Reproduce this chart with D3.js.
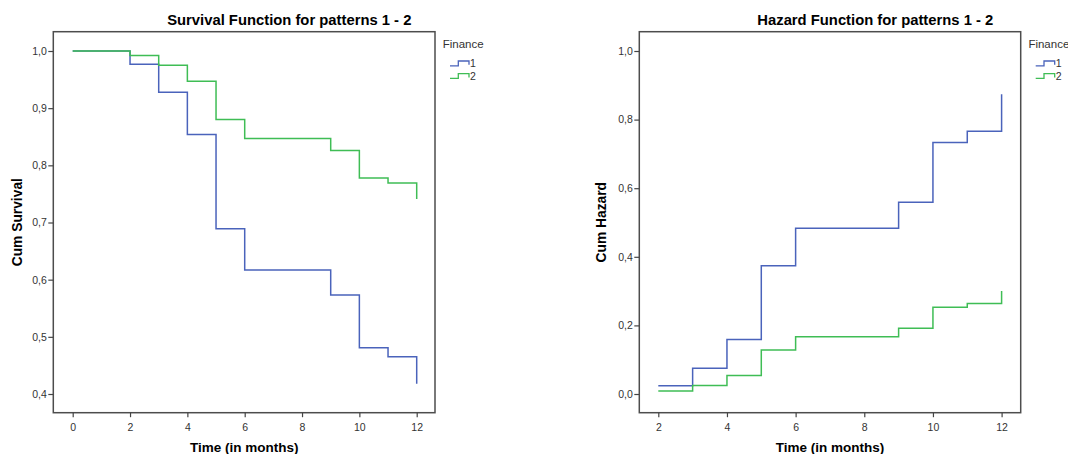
<!doctype html>
<html>
<head>
  <meta charset='utf-8'>
  <style>
    body { margin: 0; background: #fff; }
    svg { font-family: 'Liberation Sans', Arial, sans-serif; }
    .tick text { font-size: 10.5px; fill: #333; }
    .tick line { stroke: #444; stroke-width: 1.2; }
    .domain { display: none; }
  </style>
</head>
<body>
  <svg width='1068' height='454'></svg>
  <script src='https://d3js.org/d3.v7.min.js'></script>
  <script>
    // step times (months)
    var survTimes = [0, 2, 3, 4, 5, 6, 9, 10, 11, 12];
    var hazTimes = [2, 3, 4, 5, 6, 9, 10, 11, 12];

    // cumulative survival, Finance = 1 / 2
    var surv1 = [1.0, 0.977, 0.928, 0.854, 0.689, 0.617, 0.573, 0.481, 0.465, 0.418];
    var surv2 = [1.0, 0.992, 0.975, 0.947, 0.880, 0.847, 0.826, 0.778, 0.769, 0.741];

    // cumulative hazard, Finance = 1 / 2
    var haz1 = [0.024, 0.075, 0.159, 0.374, 0.483, 0.559, 0.733, 0.766, 0.874];
    var haz2 = [0.009, 0.025, 0.054, 0.128, 0.167, 0.192, 0.253, 0.264, 0.300];

    var groups = ['1', '2'];
    var colors = ['#4a63bb', '#3fbd55'];

    var survYTicks = [0.4, 0.5, 0.6, 0.7, 0.8, 0.9, 1.0];
    var hazYTicks = [0.0, 0.2, 0.4, 0.6, 0.8, 1.0];
    var survXTicks = [0, 2, 4, 6, 8, 10, 12];
    var hazXTicks = [2, 4, 6, 8, 10, 12];

    var svg = d3.select('svg');
    var fmt = function(d) { return d3.format('.1f')(d).replace('.', ','); };

    function panel(o) {
      var g = svg.append('g');
      var x = d3.scaleLinear().domain(o.xDomain).range(o.xRange);
      var y = d3.scaleLinear().domain(o.yDomain).range([394, 51]);

      g.append('rect')
       .attr('x', o.left).attr('y', 31.7)
       .attr('width', o.right - o.left).attr('height', 381)
       .attr('fill', 'none').attr('stroke', '#4d4d4d').attr('stroke-width', 1.5);

      g.append('g')
       .attr('transform', 'translate(0,412.7)')
       .call(d3.axisBottom(x).tickValues(o.xTicks).tickSize(4.5).tickPadding(6)
               .tickFormat(d3.format('d')));

      g.append('g')
       .attr('transform', 'translate(' + o.left + ',0)')
       .call(d3.axisLeft(y).tickValues(o.yTicks).tickSize(5).tickPadding(1.5)
               .tickFormat(fmt));

      var line = d3.line()
                   .x(function(d) { return x(d[0]); })
                   .y(function(d) { return y(d[1]); })
                   .curve(d3.curveStepAfter);

      o.series.forEach(function(vals, i) {
        g.append('path')
         .datum(d3.zip(o.times, vals))
         .attr('d', line)
         .attr('fill', 'none')
         .attr('stroke', colors[i])
         .attr('stroke-width', 1.5);
      });

      g.append('text')
       .attr('x', o.left + 236).attr('y', 25.3)
       .attr('text-anchor', 'middle')
       .style('font-size', '14.8px').style('font-weight', 'bold')
       .text(o.title);

      g.append('text')
       .attr('x', (o.left + o.right) / 2).attr('y', 452.3)
       .attr('text-anchor', 'middle')
       .style('font-size', '13.5px').style('font-weight', 'bold')
       .text('Time (in months)');

      g.append('text')
       .attr('transform', 'translate(' + o.yLabelX + ',222.2) rotate(-90)')
       .attr('text-anchor', 'middle')
       .style('font-size', '13.8px').style('font-weight', 'bold')
       .text(o.yLabel);

      // legend
      var lx = o.right + 7.7;
      g.append('text')
       .attr('x', lx).attr('y', 48)
       .style('font-size', '11.5px').style('fill', '#333')
       .text('Finance');

      groups.forEach(function(name, i) {
        var yy = 65.8 + i * 12.6;
        g.append('path')
         .attr('d', 'M' + (lx + 7.3) + ',' + yy + 'H' + (lx + 15.6) +
                    'V' + (yy - 4.8) + 'H' + (lx + 26.3) + 'V' + (yy - 1))
         .attr('fill', 'none').attr('stroke', colors[i]).attr('stroke-width', 1.3);
        g.append('text')
         .attr('x', lx + 27.3).attr('y', yy + 1.6)
         .style('font-size', '10.5px').style('fill', '#333')
         .text(name);
      });
    }

    panel({
      left: 53.3, right: 435,
      xDomain: [0, 12], xRange: [72.7, 416.7], xTicks: survXTicks,
      yDomain: [0.4, 1.0], yTicks: survYTicks,
      times: survTimes, series: [surv1, surv2],
      title: 'Survival Function for patterns 1 - 2',
      yLabel: 'Cum Survival', yLabelX: 22
    });

    panel({
      left: 639.3, right: 1020.7,
      xDomain: [2, 12], xRange: [658.3, 1001.6], xTicks: hazXTicks,
      yDomain: [0.0, 1.0], yTicks: hazYTicks,
      times: hazTimes, series: [haz1, haz2],
      title: 'Hazard Function for patterns 1 - 2',
      yLabel: 'Cum Hazard', yLabelX: 605.5
    });
  </script>
</body>
</html>
